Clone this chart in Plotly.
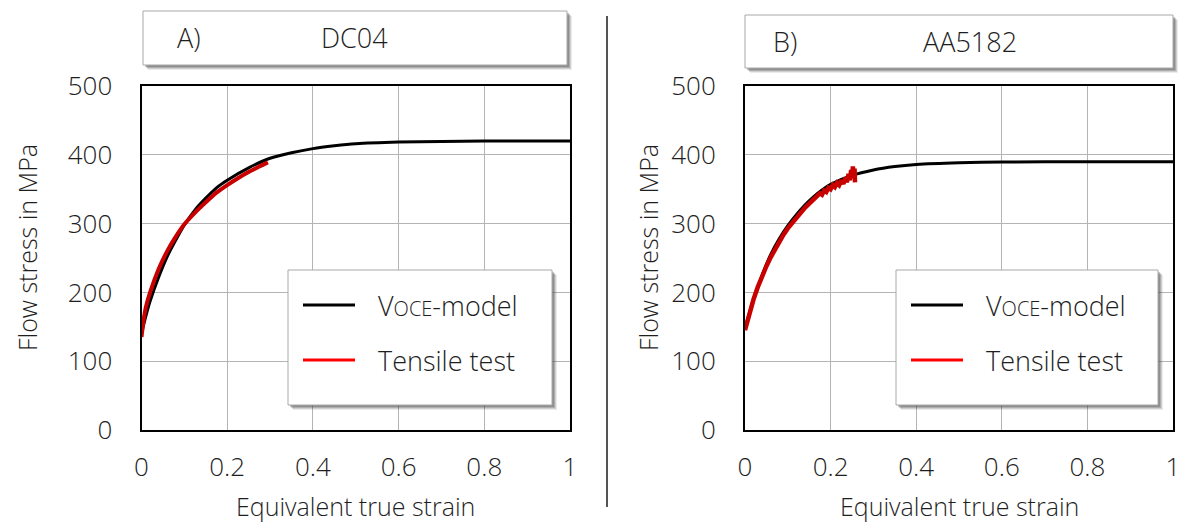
import plotly.graph_objects as go

W, H = 1183, 524

# ---- data: flow curves (equivalent true strain, flow stress in MPa) ----
dc04_voce_strain = [0.0, 0.01, 0.02, 0.04, 0.06, 0.08, 0.10, 0.125, 0.15, 0.175, 0.20,
                    0.25, 0.30, 0.35, 0.40, 0.45, 0.50, 0.60, 0.70, 0.80, 0.90, 1.00]
dc04_voce_stress = [140, 165, 187, 222, 252, 276, 298, 320, 337, 352, 363,
                    381, 395, 403, 409, 413, 416, 418.5, 419.5, 420, 420, 420]

dc04_test_strain = [0.0, 0.005, 0.01, 0.02, 0.04, 0.06, 0.08, 0.10, 0.125, 0.15,
                    0.175, 0.20, 0.225, 0.25, 0.275, 0.295]
dc04_test_stress = [135, 160, 178, 200, 234, 260, 281, 299, 316, 331,
                    345, 356, 366, 375, 383, 389]

aa5182_voce_strain = [0.0, 0.02, 0.04, 0.06, 0.08, 0.10, 0.12, 0.14, 0.16, 0.18, 0.20,
                      0.25, 0.30, 0.35, 0.40, 0.50, 0.60, 0.80, 1.00]
aa5182_voce_stress = [148, 190, 225, 255, 278, 297, 313, 327, 339, 349, 357,
                      370, 378, 383, 386, 388.5, 389.5, 390, 390]

aa5182_test_strain = [0.0, 0.005, 0.01, 0.02, 0.03, 0.04, 0.05, 0.06, 0.07, 0.08, 0.09,
                      0.10, 0.11, 0.12, 0.13, 0.14, 0.15, 0.16, 0.17, 0.175, 0.18,
                      0.185, 0.19, 0.195, 0.20, 0.205, 0.21, 0.215, 0.22, 0.225, 0.23,
                      0.235, 0.238, 0.242, 0.245, 0.248, 0.25, 0.252, 0.254, 0.256, 0.257]
aa5182_test_stress = [145, 158, 170, 190, 208, 224, 238, 251, 263, 274, 284,
                      293, 301, 309, 316, 323, 329, 335, 340, 344, 342,
                      348, 346, 352, 350, 356, 353, 359, 356, 363, 358,
                      367, 360, 372, 363, 378, 366, 383, 370, 380, 360]

x_ticks = [0, 0.2, 0.4, 0.6, 0.8, 1]
x_tick_text = ["0", "0.2", "0.4", "0.6", "0.8", "1"]
y_ticks = [0, 100, 200, 300, 400, 500]

panel_tags = ["A)", "B)"]
panel_titles = ["DC04", "AA5182"]
series_names = ["V<span style='font-size:20px'>OCE</span>-model", "Tensile test"]

FONT = "Open Sans"
WEIGHT = 300
TXT = "#1e1e1e"


def px(x):
    return x / W


def py(y):
    return 1 - y / H


fig = go.Figure()

# panel A
fig.add_trace(go.Scatter(x=dc04_voce_strain, y=dc04_voce_stress, mode="lines",
                         line=dict(color="black", width=3, shape="spline", smoothing=0.6),
                         xaxis="x", yaxis="y", showlegend=False))
fig.add_trace(go.Scatter(x=dc04_test_strain, y=dc04_test_stress, mode="lines",
                         line=dict(color="#c80000", width=4, shape="spline", smoothing=0.6),
                         xaxis="x", yaxis="y", showlegend=False))
# panel B
fig.add_trace(go.Scatter(x=aa5182_voce_strain, y=aa5182_voce_stress, mode="lines",
                         line=dict(color="black", width=3, shape="spline", smoothing=0.6),
                         xaxis="x2", yaxis="y2", showlegend=False))
fig.add_trace(go.Scatter(x=aa5182_test_strain, y=aa5182_test_stress, mode="lines",
                         line=dict(color="#c80000", width=4.5),
                         xaxis="x2", yaxis="y2", showlegend=False))

plot_top, plot_bottom = 86, 430
panels = [(141.5, 570), (745, 1173)]

axis_common = dict(showline=True, linecolor="black", linewidth=2, mirror=True,
                   showgrid=True, gridcolor="#b4b4b4", gridwidth=1, zeroline=False,
                   automargin=False, ticks="",
                   tickfont=dict(family=FONT, size=26, color=TXT, weight=WEIGHT))

fig.update_layout(
    width=W, height=H, autosize=False,
    margin=dict(l=0, r=0, t=0, b=0, pad=0, autoexpand=False),
    paper_bgcolor="white", plot_bgcolor="white", showlegend=False,
    xaxis=dict(domain=[px(panels[0][0]), px(panels[0][1])], range=[0, 1],
               tickvals=x_ticks, ticktext=x_tick_text, anchor="y",
               ticklabelstandoff=13, **axis_common),
    yaxis=dict(domain=[py(plot_bottom), py(plot_top)], range=[0, 500],
               tickvals=y_ticks, anchor="x", ticklabelstandoff=22, **axis_common),
    xaxis2=dict(domain=[px(panels[1][0]), px(panels[1][1])], range=[0, 1],
                tickvals=x_ticks, ticktext=x_tick_text, anchor="y2",
                ticklabelstandoff=13, **axis_common),
    yaxis2=dict(domain=[py(plot_bottom), py(plot_top)], range=[0, 500],
                tickvals=y_ticks, anchor="x2", ticklabelstandoff=22, **axis_common),
)

shapes = []
annotations = []


def shadow_box(x0, y0, x1, y1):
    # soft drop shadow toward the lower right, then the white box on top
    for off, op in [(5, 0.10), (4, 0.16), (3, 0.22), (2, 0.28)]:
        shapes.append(dict(type="rect", xref="paper", yref="paper",
                           x0=px(x0 + off), x1=px(x1 + off), y0=py(y1 + off), y1=py(y0 + off),
                           line=dict(width=0), fillcolor=f"rgba(60,60,60,{op})"))
    shapes.append(dict(type="rect", xref="paper", yref="paper",
                       x0=px(x0), x1=px(x1), y0=py(y1), y1=py(y0),
                       line=dict(color="#a8a8a8", width=1), fillcolor="white"))


def text(x, y, s, size=24, xanchor="center", yanchor="middle", angle=0):
    annotations.append(dict(xref="paper", yref="paper", x=px(x), y=py(y), text=s,
                            showarrow=False, xanchor=xanchor, yanchor=yanchor,
                            textangle=angle, borderpad=0,
                            font=dict(family=FONT, size=size, color=TXT, weight=WEIGHT)))


# title boxes
title_boxes = [(143, 11, 567, 65, 189, 354, 38), (745, 15, 1173, 68, 785, 970, 42)]
for (x0, y0, x1, y1, tx, cx, cy), tag, ttl in zip(title_boxes, panel_tags, panel_titles):
    shadow_box(x0, y0, x1, y1)
    text(tx, cy, tag, size=27)
    text(cx, cy, ttl, size=27)

# legend boxes
legend_boxes = [(288, 270, 552, 405), (896, 270, 1158, 405)]
for (x0, y0, x1, y1) in legend_boxes:
    shadow_box(x0, y0, x1, y1)
    for row, (name, col) in enumerate(zip(series_names, ["black", "#ff0000"])):
        ly = y0 + 35 + row * 55
        shapes.append(dict(type="line", xref="paper", yref="paper",
                           x0=px(x0 + 15), x1=px(x0 + 67), y0=py(ly), y1=py(ly),
                           line=dict(color=col, width=3)))
        text(x0 + 89, ly, name, size=27, xanchor="left")

# axis titles
for (x0, x1), ylab_x in zip(panels, [27, 648]):
    text((x0 + x1) / 2, 523.5, "Equivalent true strain", size=25, yanchor="bottom")
    text(ylab_x, 248, "Flow stress in MPa", size=25, angle=-90)

# divider between the panels
shapes.append(dict(type="line", xref="paper", yref="paper",
                   x0=px(607), x1=px(607), y0=py(16), y1=py(507),
                   line=dict(color="#555555", width=2)))

fig.update_layout(shapes=shapes, annotations=annotations)

fig.write_html("out.html")
